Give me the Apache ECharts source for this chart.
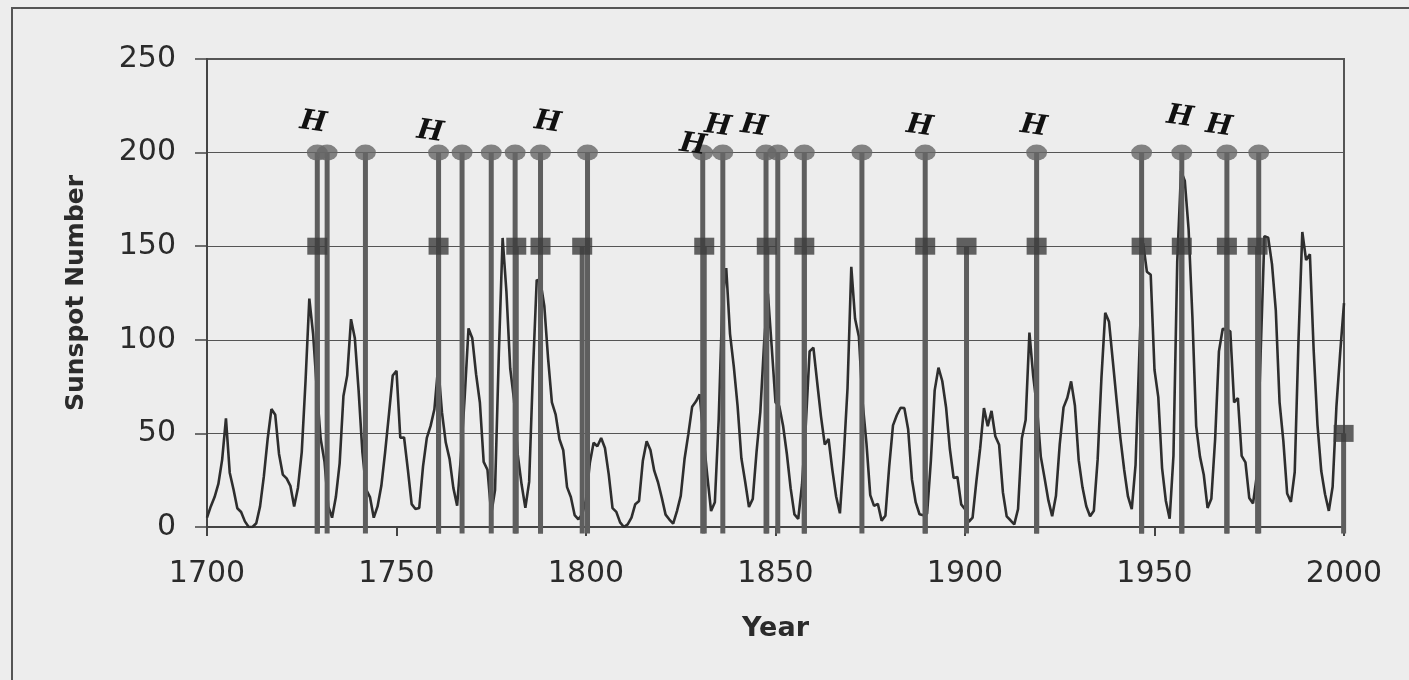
<!DOCTYPE html>
<html>
<head>
<meta charset="utf-8">
<script src="https://cdn.jsdelivr.net/npm/echarts@6/dist/echarts.min.js"></script>
<style>
html,body{margin:0;padding:0;background:#ededed;}
#chart{width:1409px;height:680px;}
</style>
</head>
<body>
<div id="chart"></div>
<script>
const startYear = 1700;
const sunspots = [
5,11,16,23,36,58,29,20,10,8,
3,0,0,2,11,27,47,63,60,39,
28,26,22,11,21,40,78,122,103,73,
47,35,11,5,16,34,70,81,111,101,
73,40,20,16,5,11,22,40,60,80.9,
83.4,47.7,47.8,30.7,12.2,9.6,10.2,32.4,47.6,54.0,
62.9,85.9,61.2,45.1,36.4,20.9,11.4,37.8,69.8,106.1,
100.8,81.6,66.5,34.8,30.6,7.0,19.8,92.5,154.4,125.9,
84.8,68.1,38.5,22.8,10.2,24.1,82.9,132.0,130.9,118.1,
89.9,66.6,60.0,46.9,41.0,21.3,16.0,6.4,4.1,6.8,
14.5,34.0,45.0,43.1,47.5,42.2,28.1,10.1,8.1,2.5,
0.0,1.4,5.0,12.2,13.9,35.4,45.8,41.1,30.1,23.9,
15.6,6.6,4.0,1.8,8.5,16.6,36.3,49.6,64.2,67.0,
70.9,47.8,27.5,8.5,13.2,56.9,121.5,138.3,103.2,85.7,
64.6,36.7,24.2,10.7,15.0,40.1,61.5,98.5,124.7,96.3,
66.6,64.5,54.1,39.0,20.6,6.7,4.3,22.7,54.8,93.8,
95.8,77.2,59.1,44.0,47.0,30.5,16.3,7.3,37.6,74.0,
139.0,111.2,101.6,66.2,44.7,17.0,11.3,12.4,3.4,6.0,
32.3,54.3,59.7,63.7,63.5,52.2,25.4,13.1,6.8,6.3,
7.1,35.6,73.0,85.1,78.0,64.0,41.8,26.2,26.7,12.1,
9.5,2.7,5.0,24.4,42.0,63.5,53.8,62.0,48.5,43.9,
18.6,5.7,3.6,1.4,9.6,47.4,57.1,103.9,80.6,63.6,
37.6,26.1,14.2,5.8,16.7,44.3,63.9,69.0,77.8,64.9,
35.7,21.2,11.1,5.7,8.7,36.1,79.7,114.4,109.6,88.8,
67.8,47.5,30.6,16.3,9.6,33.2,92.6,151.6,136.3,134.7,
83.9,69.4,31.5,13.9,4.4,38.0,141.7,190.2,184.8,159.0,
112.3,53.9,37.6,27.9,10.2,15.1,47.0,93.8,105.9,105.5,
104.5,66.6,68.9,38.0,34.5,15.5,12.6,27.5,92.5,155.4,
154.6,140.4,115.9,66.6,45.9,17.9,13.4,29.4,100.2,157.6,
142.6,145.7,94.3,54.6,29.9,17.5,8.6,21.5,64.3,93.3,
119.6
];

// events marked with a circle (at 200)
const circleYears = [1729.1,1731.7,1741.8,1761.1,1767.3,1775.0,1781.3,1788.0,1800.4,
  1830.8,1836.1,1847.5,1850.6,1857.6,1872.8,1889.5,1918.9,1946.6,1957.2,1969.1,1977.5];
const circleValue = 200;

// events marked with a square
const squareYears = [1729.1,1761.1,1781.6,1788.0,1799.0,1831.2,1847.7,1857.6,1889.5,
  1900.4,1918.9,1946.6,1957.2,1969.1,1977.2,1999.9];
const squareValues = [150,150,150,150,150,150,150,150,150,150,150,150,150,150,150,50];

// handwritten "H" annotations
const hYears  = [1728.0,1758.9,1789.9,1828.2,1834.8,1844.3,1888.0,1918.1,1956.7,1967.0];
const hValues = [216,211,216,204,214,214,214,214,219,214];
const hText = 'H';

const xTicks = {min:1700, max:2000, interval:50};
const yTicks = {min:0, max:250, interval:50};

const lineData = sunspots.map((v,i)=>[startYear+i, v]);
const stemData = circleYears.map(y=>[y, circleValue]).concat(squareYears.map((y,i)=>[y, squareValues[i]]));

const chart = echarts.init(document.getElementById('chart'));
const txt = '#2b2b2b';
chart.setOption({
  backgroundColor:'#ededed',
  animation:false,
  graphic:[{type:'rect', shape:{x:12,y:8,width:1420,height:700},
    style:{fill:'none', stroke:'#555', lineWidth:2}, z:0}],
  grid:{left:207, right:65, top:59, bottom:153, show:true, borderColor:'#555', borderWidth:2},
  xAxis:{type:'value', min:xTicks.min, max:xTicks.max, interval:xTicks.interval,
    name:'Year', nameLocation:'middle', nameGap:88,
    nameTextStyle:{fontFamily:'DejaVu Sans', fontWeight:'bold', fontSize:27, color:txt},
    axisLine:{onZero:false, lineStyle:{color:'#444', width:2}},
    axisTick:{show:true, length:9, lineStyle:{color:'#444', width:2}},
    axisLabel:{fontFamily:'DejaVu Sans', fontSize:30, color:txt, margin:32,
      formatter:function(v){return String(v);}},
    splitLine:{show:false}},
  yAxis:{type:'value', min:yTicks.min, max:yTicks.max, interval:yTicks.interval,
    name:'Sunspot Number', nameLocation:'middle', nameGap:118,
    nameTextStyle:{fontFamily:'DejaVu Sans', fontWeight:'bold', fontSize:25, color:txt},
    axisLine:{show:true, lineStyle:{color:'#444', width:2}},
    axisTick:{show:true, length:12, lineStyle:{color:'#444', width:1.5}},
    axisLabel:{fontFamily:'DejaVu Sans', fontSize:30, color:txt, margin:31},
    splitLine:{show:true, lineStyle:{color:'#555', width:1.2}}},
  series:[
    {type:'line', data:lineData, showSymbol:false, z:2,
      lineStyle:{color:'#2e2e2e', width:2.6}},
    {type:'custom', data:stemData, z:3, clip:false,
      renderItem:function(params, api){
        const p0 = api.coord([api.value(0), -3.5]);
        const p1 = api.coord([api.value(0), api.value(1)]);
        return {type:'line', shape:{x1:p0[0], y1:p0[1], x2:p1[0], y2:p1[1]},
          style:{stroke:'#5e5e5e', lineWidth:5}};
      }},
    {type:'scatter', data:circleYears.map(y=>[y, circleValue]), z:5,
      symbol:'circle', symbolSize:[21,16], itemStyle:{color:'#676767'}},
    {type:'scatter', data:squareYears.map((y,i)=>[y, squareValues[i]]), z:5,
      symbol:'rect', symbolSize:[20,17], itemStyle:{color:'#3c3c3c'}},
    {type:'scatter', data:hYears.map((y,i)=>[y, hValues[i]]), z:6,
      symbolSize:2, itemStyle:{color:'rgba(0,0,0,0)'},
      label:{show:true, position:'inside', formatter:hText, fontFamily:'DejaVu Serif',
        fontStyle:'italic', fontWeight:'bold', fontSize:28, color:'#111', opacity:1, rotate:-8}}
  ]
});
</script>
</body>
</html>
